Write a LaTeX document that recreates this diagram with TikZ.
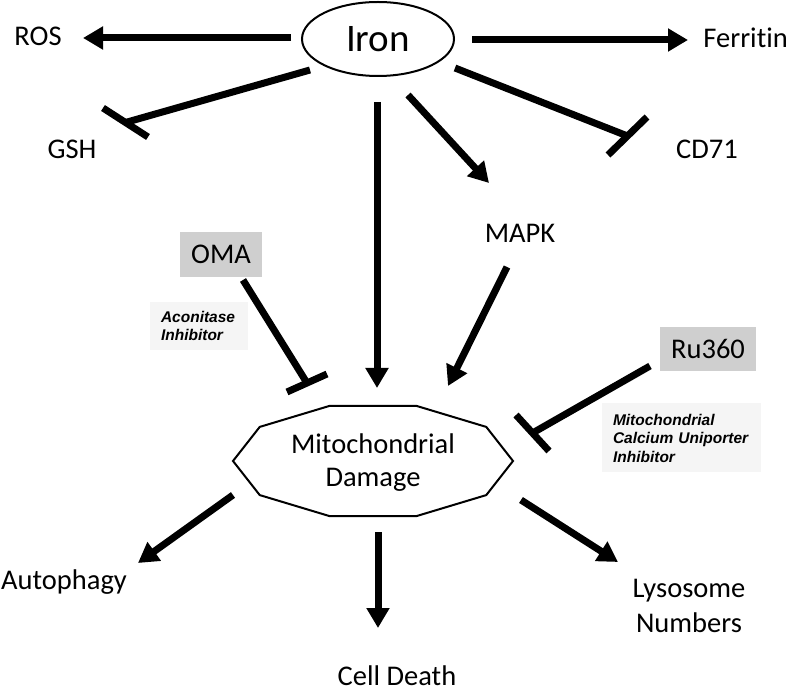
\documentclass[tikz,border=0pt]{standalone}
\usepackage{fontspec}
\setmainfont{Carlito}[Ligatures=NoCommon]
\newfontfamily\arialfont{Liberation Sans}
\usetikzlibrary{arrows.meta,shapes.geometric,calc}
\tikzset{
  act/.style={line width=7pt,-{Triangle[length=20pt,width=22pt]}},
  inh/.style={line width=7pt},
  lbl/.style={font=\fontsize{28.5}{34}\selectfont,inner sep=0pt,align=center},
  drug/.style={fill=black!19,minimum width=82pt,minimum height=45pt,font=\fontsize{28.5}{34}\selectfont,inner sep=0pt},
  note/.style={fill=black!4,inner sep=0pt,align=left,font=\arialfont\bfseries\itshape\fontsize{15.5}{18.5}\selectfont}
}
\begin{document}
\begin{tikzpicture}[x=1pt,y=-1pt]
\useasboundingbox (0,0) rectangle (793,692);
% nodes
\node[draw,ellipse,line width=2pt,minimum width=152pt,minimum height=74pt,inner sep=0pt,font=\fontsize{39}{40}\selectfont] (iron) at (378,39) {Iron};
\node[lbl] (ros) at (38,36) {ROS};
\node[lbl,anchor=east] (ferritin) at (788,38) {Ferritin};
\node[lbl] (gsh) at (72,149) {GSH};
\node[lbl] (cd71) at (707,149) {CD71};
\node[lbl] (mapk) at (520,233) {MAPK};
\node[drug] (oma) at (221,254.5) {OMA};
\node[drug,minimum width=96pt,minimum height=44pt] (ru) at (708,349) {Ru360};
\node[note,minimum width=98pt,minimum height=48pt,text width=76pt] (acon) at (199,326) {Aconitase\\Inhibitor};
\node[note,minimum width=159pt,minimum height=69pt,text width=137pt] (mcu) at (681.5,438) {Mitochondrial\\Calcium Uniporter\\Inhibitor};
\node[lbl,font=\fontsize{28.5}{33}\selectfont] (mito) at (373,463) {Mitochondrial\\Damage};
\draw[line width=2pt,line join=miter] ($(373,461)+(0:140 and 58)$)
  \foreach \a in {36,72,...,324} { -- ($(373,461)+(\a:140 and 58)$) } -- cycle;
\node[lbl,anchor=west] (auto) at (1,582) {Autophagy};
\node[lbl] (death) at (397,676) {Cell Death};
\node[lbl,font=\fontsize{28.5}{35}\selectfont] (lyso) at (689,606) {Lysosome\\Numbers};
% connector ends
\coordinate (i1) at (291,38);  \coordinate (r1) at (83,38);
\coordinate (i2) at (472,40);  \coordinate (f1) at (688,40);
\coordinate (i3) at (310,70);  \coordinate (g1) at (125.5,122.5);
\coordinate (i4) at (455,68);  \coordinate (c1) at (627.5,136);
\coordinate (i5) at (408,95);  \coordinate (m1) at (489,183);
\coordinate (i6) at (377,102); \coordinate (md1) at (377,388);
\coordinate (o1) at (243,280); \coordinate (md2) at (307,383);
\coordinate (p1) at (507,267); \coordinate (md3) at (448,386);
\coordinate (u1) at (650,366); \coordinate (md4) at (532.5,433);
\coordinate (md5) at (233,495); \coordinate (a1) at (138,563);
\coordinate (md6) at (378,532); \coordinate (cd1) at (378,628);
\coordinate (md7) at (521,500); \coordinate (l1) at (618,562);
% connectors
\draw[act] (i1) -- (r1);
\draw[act] (i2) -- (f1);
\draw[inh] (i3) -- (g1);
\draw[inh] (103,108) -- (148,137);
\draw[inh] (i4) -- (c1);
\draw[inh] (647,117) -- (608,155);
\draw[act] (i5) -- (m1);
\draw[act] (i6) -- (md1);
\draw[inh] (o1) -- (md2);
\draw[inh] (287,392) -- (327,374);
\draw[act] (p1) -- (md3);
\draw[inh] (u1) -- (md4);
\draw[inh] (516,415) -- (549,451);
\draw[act] (md5) -- (a1);
\draw[act] (md6) -- (cd1);
\draw[act] (md7) -- (l1);
\end{tikzpicture}
\end{document}
